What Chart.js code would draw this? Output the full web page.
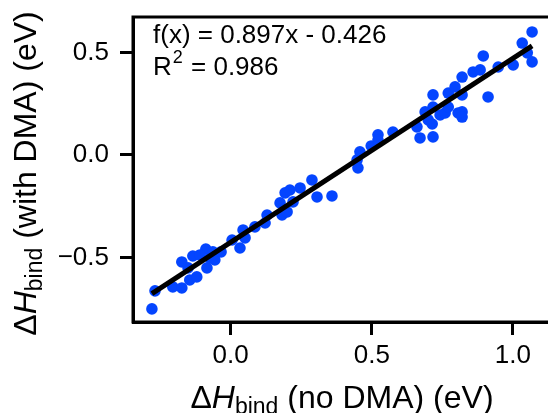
<!DOCTYPE html>
<html>
<head>
<meta charset="utf-8">
<script src="https://cdn.jsdelivr.net/npm/chart.js@4/dist/chart.umd.min.js"></script>
<style>
  html, body { margin: 0; padding: 0; background: #fff; overflow: hidden; }
  canvas { display: block; }
</style>
</head>
<body>
<canvas id="c" width="560" height="413"></canvas>
<script>
// ΔH_bind without DMA (x) vs with DMA (y), eV
const xNoDma = [
  -0.279, -0.268, -0.205, -0.173, -0.173, -0.145, -0.134, -0.120, -0.088, -0.084,
  -0.109, -0.073, -0.151, -0.063, -0.056, -0.034, 0.005, 0.033, 0.044, 0.051,
  0.086, 0.122, 0.129, 0.175, 0.182, 0.200, 0.193, 0.210, 0.221, 0.246,
  0.288, 0.306, 0.359, 0.448, 0.451, 0.458, 0.498, 0.522, 0.522, 0.575,
  0.660, 0.671, 0.689, 0.700, 0.714, 0.717, 0.717, 0.717, 0.742, 0.760,
  0.771, 0.771, 0.795, 0.806, 0.820, 0.820, 0.820, 0.820, 0.859, 0.884,
  0.895, 0.912, 0.948, 1.001, 1.033, 1.051, 1.068, 1.068
];
const yWithDma = [
  -0.751, -0.663, -0.644, -0.649, -0.522, -0.610, -0.493, -0.595, -0.459, -0.551,
  -0.488, -0.502, -0.551, -0.473, -0.512, -0.473, -0.415, -0.454, -0.366, -0.405,
  -0.351, -0.332, -0.293, -0.234, -0.293, -0.278, -0.185, -0.171, -0.229, -0.161,
  -0.122, -0.205, -0.200, -0.024, -0.063, 0.015, 0.044, 0.098, 0.073, 0.112,
  0.137, 0.083, 0.210, 0.171, 0.151, 0.293, 0.234, 0.088, 0.195, 0.205,
  0.302, 0.234, 0.332, 0.205, 0.380, 0.293, 0.210, 0.185, 0.405, 0.415,
  0.483, 0.283, 0.429, 0.439, 0.546, 0.498, 0.600, 0.454
];
const xTicks = [0.0, 0.5, 1.0];
const yTicks = [-0.5, 0.0, 0.5];
const slope = 0.897;
const intercept = -0.426;
const r2 = 0.986;

const BLUE = '#0445ff';
const FONT = '"Liberation Sans", Arial, sans-serif';

const points = xNoDma.map((x, i) => ({ x, y: yWithDma[i] }));
const xLo = Math.min(...xNoDma), xHi = Math.max(...xNoDma);
const fitLine = [xLo, xHi].map(x => ({ x, y: slope * x + intercept }));

const fmt = v => (v < 0 ? '\u2212' : '') + Math.abs(v).toFixed(1);

// frame, fit text and axis titles (the titles need a subscript)
const decor = {
  id: 'decor',
  afterDraw(chart) {
    const { ctx, chartArea: a } = chart;
    ctx.save();
    ctx.strokeStyle = '#000';
    ctx.lineWidth = 3;
    ctx.strokeRect(a.left, a.top, a.right - a.left, a.bottom - a.top);

    ctx.fillStyle = '#000';
    ctx.textBaseline = 'alphabetic';
    ctx.textAlign = 'left';
    ctx.font = `26px ${FONT}`;
    const sign = intercept < 0 ? '-' : '+';
    ctx.fillText(`f(x) = ${slope.toFixed(3)}x ${sign} ${Math.abs(intercept).toFixed(3)}`, 153, 43);
    ctx.fillText('R', 153, 75);
    let w = ctx.measureText('R').width;
    ctx.font = `18px ${FONT}`;
    ctx.fillText('2', 153 + w + 1, 63);
    const w2 = ctx.measureText('2').width;
    ctx.font = `26px ${FONT}`;
    ctx.fillText(` = ${r2.toFixed(3)}`, 153 + w + w2 + 2, 75);

    const title = (rest, cx, base) => {
      const parts = [
        { t: '\u0394', f: `32px ${FONT}`, dy: 0 },
        { t: 'H', f: `italic 32px ${FONT}`, dy: 0 },
        { t: 'bind', f: `23px ${FONT}`, dy: 6 },
        { t: rest, f: `32px ${FONT}`, dy: 0 },
      ];
      let total = 0;
      parts.forEach(p => { ctx.font = p.f; p.w = ctx.measureText(p.t).width; total += p.w; });
      let x = cx - total / 2;
      parts.forEach(p => { ctx.font = p.f; ctx.fillText(p.t, x, base + p.dy); x += p.w; });
    };
    title(' (no DMA) (eV)', (a.left + a.right) / 2, 408);
    ctx.translate(36, (a.top + a.bottom) / 2 + 4);
    ctx.rotate(-Math.PI / 2);
    title(' (with DMA) (eV)', 0, 0);
    ctx.restore();
  }
};

new Chart(document.getElementById('c'), {
  type: 'scatter',
  data: {
    datasets: [
      {
        type: 'line',
        data: fitLine,
        borderColor: '#000',
        borderWidth: 5,
        pointRadius: 0,
        fill: false,
        order: 0,
      },
      {
        data: points,
        backgroundColor: BLUE,
        borderWidth: 0,
        pointRadius: 5.8,
        order: 1,
      },
    ],
  },
  options: {
    responsive: false,
    animation: false,
    layout: { padding: { left: 0, top: 17, right: 9, bottom: 0 } },
    plugins: { legend: { display: false }, tooltip: { enabled: false } },
    scales: {
      x: {
        type: 'linear', min: -0.346, max: 1.135,
        afterBuildTicks: s => { s.ticks = xTicks.map(value => ({ value })); },
        afterFit: s => { s.height = 91; s.paddingLeft = 0; s.paddingRight = 0; },
        grid: { drawOnChartArea: false, tickLength: 13, tickWidth: 3, tickColor: '#000' },
        border: { color: '#000', width: 3 },
        ticks: { color: '#000', font: { family: FONT, size: 26 }, padding: 5, callback: v => fmt(v) },
      },
      y: {
        type: 'linear', min: -0.815, max: 0.673,
        afterBuildTicks: s => { s.ticks = yTicks.map(value => ({ value })); },
        afterFit: s => { s.width = 133; s.paddingTop = 0; s.paddingBottom = 0; },
        grid: { drawOnChartArea: false, tickLength: 13, tickWidth: 3, tickColor: '#000' },
        border: { color: '#000', width: 3 },
        ticks: { color: '#000', font: { family: FONT, size: 26 }, padding: 11, callback: v => fmt(v) },
      },
    },
  },
  plugins: [decor],
});
</script>
</body>
</html>
